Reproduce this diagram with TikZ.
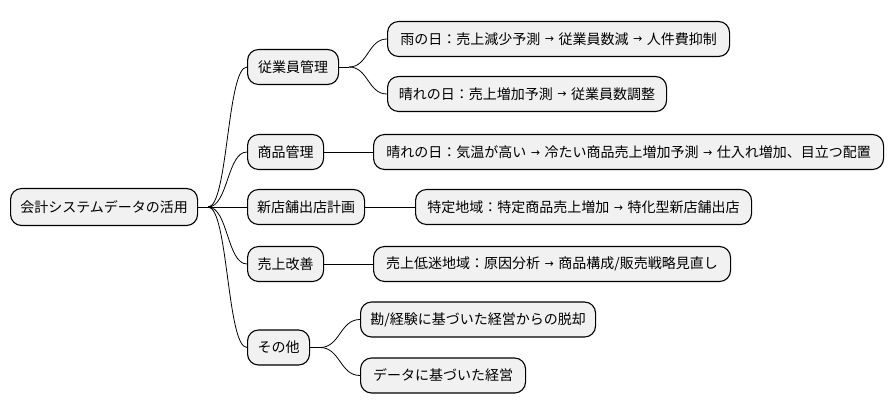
\documentclass[tikz,border=0pt]{standalone}
\usepackage{fontspec}
\setmainfont{Noto Sans CJK JP}
\newfontfamily\arrfont{DejaVu Sans}
\newcommand\arr{\hspace{4.5pt}\raisebox{1.3pt}{\arrfont\fontsize{11}{12}\selectfont →}\hspace{4.5pt}}
\usetikzlibrary{calc}
\definecolor{boxfill}{HTML}{F1F1F1}
\tikzset{
  mmbox/.style={draw=black, fill=boxfill, rounded corners=11pt, line width=1.1pt,
    minimum height=35pt, anchor=west, inner xsep=0pt, inner ysep=0pt,
    font=\fontsize{14}{16}\selectfont, text=black},
  link/.style={draw=black, line width=0.8pt},
}
\begin{document}
\begin{tikzpicture}[x=1pt,y=-1pt]
\useasboundingbox (0,0) rectangle (894,415);
% root
\node[mmbox, minimum width=187pt, minimum height=37pt] (root) at (10,207) {会計システムデータの活用};
% level 1
\node[mmbox, minimum width=91pt] (emp) at (247,67) {従業員管理};
\node[mmbox, minimum width=76pt] (prod) at (247,152) {商品管理};
\node[mmbox, minimum width=117pt] (store) at (247,207) {新店舗出店計画};
\node[mmbox, minimum width=76pt] (sales) at (247,264) {売上改善};
\node[mmbox, minimum width=62pt] (other) at (247,347.5) {その他};
% level 2
\node[mmbox, minimum width=342pt] (r1) at (387,39) {雨の日：売上減少予測\arr 従業員数減\arr 人件費抑制};
\node[mmbox, minimum width=279pt] (r2) at (387,94) {晴れの日：売上増加予測\arr 従業員数調整};
\node[mmbox, minimum width=510pt] (p1) at (373,152) {晴れの日：気温が高い\arr 冷たい商品売上増加予測\arr 仕入れ増加、目立つ配置};
\node[mmbox, minimum width=336pt] (s1) at (415,207) {特定地域：特定商品売上増加\arr 特化型新店舗出店};
\node[mmbox, minimum width=357pt] (u1) at (373,264) {売上低迷地域：原因分析\arr 商品構成/販売戦略見直し};
\node[mmbox, minimum width=235pt] (o1) at (360,319.5) {勘/経験に基づいた経営からの脱却};
\node[mmbox, minimum width=165pt] (o2) at (360,375.5) {データに基づいた経営};
% connectors
\draw[link] (root.east) -- ++(10,0) coordinate (rj);
\foreach \c in {emp,prod,store,sales,other}
  \draw[link] (rj) .. controls ([xshift=20pt]rj) and ([xshift=-20pt]\c.west) .. (\c.west);
\draw[link] (emp.east) -- ++(10,0) coordinate (ej);
\foreach \c in {r1,r2}
  \draw[link] (ej) .. controls ([xshift=19pt]ej) and ([xshift=-19pt]\c.west) .. (\c.west);
\draw[link] (prod.east) -- (p1.west);
\draw[link] (store.east) -- (s1.west);
\draw[link] (sales.east) -- (u1.west);
\draw[link] (other.east) -- ++(10,0) coordinate (oj);
\foreach \c in {o1,o2}
  \draw[link] (oj) .. controls ([xshift=20pt]oj) and ([xshift=-20pt]\c.west) .. (\c.west);
\end{tikzpicture}
\end{document}
